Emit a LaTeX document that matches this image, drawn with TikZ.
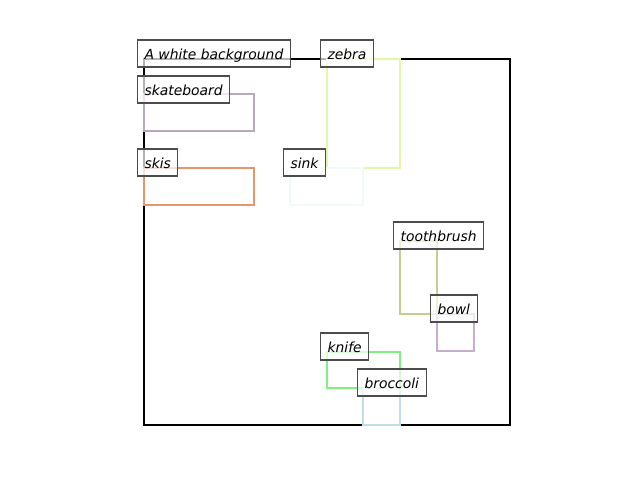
\documentclass[tikz,border=0pt]{standalone}
\usepackage{fontspec}
\setmainfont{DejaVu Sans}
\definecolor{skateboardcol}{HTML}{B8A8BC}
\definecolor{skiscol}{HTML}{E8956A}
\definecolor{zebracol}{HTML}{E2F8A8}
\definecolor{sinkcol}{HTML}{EEFCF4}
\definecolor{toothbrushcol}{HTML}{C0D090}
\definecolor{bowlcol}{HTML}{C4B0CC}
\definecolor{knifecol}{HTML}{80F080}
\definecolor{broccolicol}{HTML}{C0E0E8}
\tikzset{
  objlabel/.style={draw=black!70, fill=white, fill opacity=0.7, text opacity=1,
    line width=0.8pt, anchor=base west, font=\itshape\fontsize{10}{12}\selectfont,
    inner xsep=5.04pt, inner ysep=2.88pt, text height=10.8pt, text depth=2.88pt},
  objbox/.style={line width=2pt}
}
\begin{document}
\begin{tikzpicture}[x=0.72pt,y=-0.72pt]
  \useasboundingbox (0,0) rectangle (640,480);
  % boxes
  \draw[objbox,black] (144,59) rectangle (510,425);
  \draw[objbox,skateboardcol] (144,94) rectangle (254,131);
  \draw[objbox,zebracol] (327,59) rectangle (400,168);
  \draw[objbox,skiscol] (144,168) rectangle (254,205);
  \draw[objbox,sinkcol] (290,168) rectangle (363,205);
  \draw[objbox,toothbrushcol] (400,241) rectangle (437,314);
  \draw[objbox,bowlcol] (437,314) rectangle (474,351);
  \draw[objbox,knifecol] (327,352) rectangle (400,388);
  \draw[objbox,broccolicol] (363,388) rectangle (400,425);
  % labels
  \node[objlabel] (bg) at (137,59) {A white background};
  \node[objlabel] (skateboard) at (137,95) {skateboard};
  \node[objlabel] (zebra) at (320,59) {zebra};
  \node[objlabel] (skis) at (137,168) {skis};
  \node[objlabel] (sink) at (283,168) {sink};
  \node[objlabel] (toothbrush) at (393,241) {toothbrush};
  \node[objlabel] (bowl) at (430,314) {bowl};
  \node[objlabel] (knife) at (320,352) {knife};
  \node[objlabel] (broccoli) at (357,388) {broccoli};
\end{tikzpicture}
\end{document}
